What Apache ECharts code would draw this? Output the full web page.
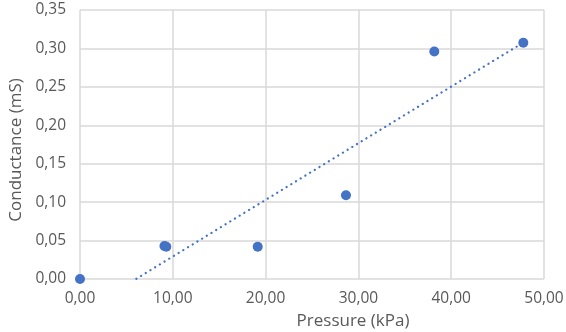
<!DOCTYPE html>
<html>
<head>
<meta charset="utf-8">
<script src="https://cdn.jsdelivr.net/npm/echarts@6/dist/echarts.min.js"></script>
<style>
  html, body { margin: 0; padding: 0; background: #fff; }
  #chart { width: 566px; height: 332px; }
</style>
</head>
<body>
<div id="chart"></div>
<script>
// Measured pressure (kPa) and conductance (mS)
const pressure = [0.0, 9.1, 9.3, 19.15, 28.66, 38.18, 47.77];
const conductance = [0.0, 0.043, 0.042, 0.042, 0.109, 0.296, 0.3075];

// Linear trendline: conductance = slope * pressure + intercept
const trendSlope = 0.00737;
const trendIntercept = -0.0444;

// Axis ranges and tick spacing
const xRange = [0, 50, 10];
const yRange = [0, 0.35, 0.05];

const fmt = (v, d) => v.toFixed(d).replace('.', ',');

const points = pressure.map((p, i) => [p, conductance[i]]);
const xMin = Math.min(...pressure), xMax = Math.max(...pressure);
const trend = [xMin, xMax].map(x => [x, trendSlope * x + trendIntercept]);

const gridColor = '#d9d9d9';
const textColor = '#595959';
const font = '"Open Sans", "Liberation Sans", sans-serif';

const chart = echarts.init(document.getElementById('chart'), null, { renderer: 'canvas' });
chart.setOption({
  animation: false,
  grid: { left: 80, right: 22, top: 10, bottom: 53, containLabel: false, outerBoundsMode: 'none' },
  xAxis: {
    type: 'value',
    min: xRange[0], max: xRange[1], interval: xRange[2],
    name: 'Pressure (kPa)',
    nameLocation: 'middle',
    nameGap: 34,
    nameTextStyle: { color: textColor, fontSize: 17, fontFamily: font, padding: [0, 0, 0, 82] },
    axisLine: { show: false },
    axisTick: { show: false },
    axisLabel: { color: textColor, fontSize: 15.5, fontFamily: font, margin: 12, formatter: v => fmt(v, 2) },
    splitLine: { show: true, lineStyle: { color: gridColor, width: 1.5 } }
  },
  yAxis: {
    type: 'value',
    min: yRange[0], max: yRange[1], interval: yRange[2],
    name: 'Conductance (mS)',
    nameLocation: 'middle',
    nameGap: 55,
    nameTextStyle: { color: textColor, fontSize: 17, fontFamily: font, padding: [0, 11, 0, 0] },
    axisLine: { show: false },
    axisTick: { show: false },
    axisLabel: { color: textColor, fontSize: 15.5, fontFamily: font, margin: 14, formatter: v => fmt(v, 2) },
    splitLine: { show: true, lineStyle: { color: gridColor, width: 1.5 } }
  },
  series: [
    {
      type: 'line',
      data: trend,
      symbol: 'none',
      clip: true,
      z: 2,
      lineStyle: { color: '#4472C4', width: 2.2, type: [0.1, 5.4], cap: 'round' }
    },
    {
      type: 'scatter',
      data: points,
      symbol: 'circle',
      symbolSize: 10,
      z: 3,
      itemStyle: { color: '#4472C4', opacity: 1 }
    }
  ]
});
</script>
</body>
</html>
